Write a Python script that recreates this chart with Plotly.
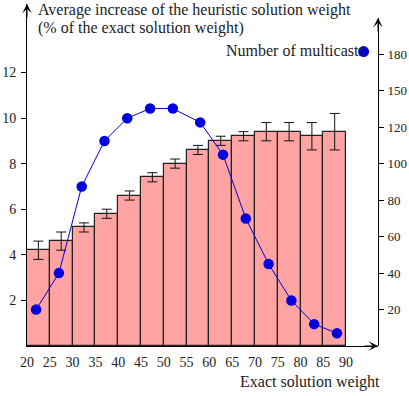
import plotly.graph_objects as go

# ---- data ----
bin_centers = [22.5, 27.5, 32.5, 37.5, 42.5, 47.5, 52.5, 57.5, 62.5, 67.5, 72.5, 77.5, 82.5, 87.5]
avg_increase = [4.2, 4.6, 5.2, 5.8, 6.6, 7.4, 8.0, 8.6, 9.0, 9.2, 9.4, 9.4, 9.2, 9.4]
avg_increase_err = [0.4, 0.4, 0.2, 0.2, 0.2, 0.2, 0.2, 0.2, 0.2, 0.2, 0.4, 0.4, 0.6, 0.8]

mc_x = [22, 27, 32, 37, 42, 47, 52, 58, 63, 68, 73, 78, 83, 88]
mc_count = [20, 40, 87.5, 112.5, 125, 130.3, 130.3, 122.7, 105, 70, 45, 25, 12, 7]

x_ticks = [20, 25, 30, 35, 40, 45, 50, 55, 60, 65, 70, 75, 80, 85, 90]
left_ticks = [2, 4, 6, 8, 10, 12]
right_tickvals = [20, 40, 60, 80, 100, 120, 140, 160]
right_ticktext = ["20", "40", "60", "80", "100", "120", "150", "180"]

FONT = "Liberation Serif"
TXT = "#222222"
BLUE = "#0000dd"
tf = dict(family=FONT, size=14, color=TXT)
tf_r = dict(family=FONT, size=13, color=TXT)

fig = go.Figure()
fig.add_trace(go.Bar(
    x=bin_centers, y=avg_increase, width=5,
    marker=dict(color="#ffa3a3", line=dict(color="#222222", width=1.2)),
    error_y=dict(type="data", array=avg_increase_err, color="#111111", thickness=1, width=5),
    yaxis="y", showlegend=False,
))
fig.add_trace(go.Scatter(
    x=mc_x, y=mc_count, mode="lines+markers",
    line=dict(color=BLUE, width=1),
    marker=dict(color=BLUE, size=10.5),
    yaxis="y2", showlegend=False, name="Number of multicasts",
))

d2 = (346.2 - 18) / (346.2 - 4)

fig.update_layout(
    width=409, height=396,
    margin=dict(l=27, r=31, t=4, b=50),
    paper_bgcolor="white", plot_bgcolor="rgba(0,0,0,0)",
    font=dict(family=FONT, size=16, color=TXT),
    bargap=0,
    xaxis=dict(range=[20, 97], tickvals=x_ticks, ticks="", showline=True,
               linecolor="black", linewidth=1, showgrid=False, zeroline=False,
               ticklabelstandoff=3, tickfont=tf, automargin=False),
    yaxis=dict(range=[0, 15], tickvals=left_ticks, ticks="outside", ticklen=5,
               tickcolor="black", showline=True, linecolor="black", linewidth=1,
               showgrid=False, zeroline=False, ticklabelstandoff=2, tickfont=tf,
               automargin=False),
    yaxis3=dict(range=[0, 15], tickvals=left_ticks, ticks="inside", ticklen=5,
                tickcolor="black", overlaying="y", side="left", showticklabels=False,
                showgrid=False, zeroline=False, showline=False, automargin=False),
    yaxis2=dict(range=[0, 180], domain=[0, d2], anchor="x", side="right",
                tickvals=right_tickvals, ticktext=right_ticktext,
                ticks="outside", ticklen=5, tickcolor="black",
                showline=True, linecolor="black", linewidth=1,
                showgrid=False, zeroline=False, ticklabelstandoff=1, tickfont=tf_r,
                automargin=False),
    yaxis4=dict(range=[0, 180], tickvals=right_tickvals, ticks="inside", ticklen=5,
                tickcolor="black", overlaying="y2", side="right", anchor="x",
                showticklabels=False, showgrid=False, zeroline=False, showline=False,
                automargin=False),
)

# axis arrows
arrow = dict(text="", showarrow=True, arrowhead=3, arrowsize=1.6, arrowwidth=1,
             arrowcolor="black")
fig.add_annotation(x=0, y=1, ax=0, ay=15, xref="paper", yref="paper", **arrow)
fig.add_annotation(x=1, y=0, ax=-15, ay=0, xref="paper", yref="paper", **arrow)
fig.add_annotation(x=1, y=1, ax=0, ay=15, xref="paper", yref="y2 domain", **arrow)

# texts
fig.add_annotation(x=0.027, y=0.981, xref="paper", yref="paper", xanchor="left",
                   yanchor="middle", showarrow=False,
                   text="Average increase of the heuristic solution weight")
fig.add_annotation(x=0.027, y=0.930, xref="paper", yref="paper", xanchor="left",
                   yanchor="middle", showarrow=False,
                   text="(% of the exact solution weight)")
fig.add_annotation(x=1.0125, y=-0.1067, xref="paper", yref="paper", xanchor="right",
                   yanchor="middle", showarrow=False, text="Exact solution weight")
fig.add_annotation(x=0.968, y=0.863, xref="paper", yref="paper", xanchor="right",
                   yanchor="middle", showarrow=False, text="Number of multicasts")
fig.add_shape(type="circle", xref="paper", yref="paper", xsizemode="pixel",
              ysizemode="pixel", xanchor=0.959, yanchor=0.861,
              x0=-5.5, x1=5.5, y0=-5.5, y1=5.5,
              fillcolor=BLUE, line=dict(color=BLUE, width=0), layer="above")

fig.write_html("out.html")
